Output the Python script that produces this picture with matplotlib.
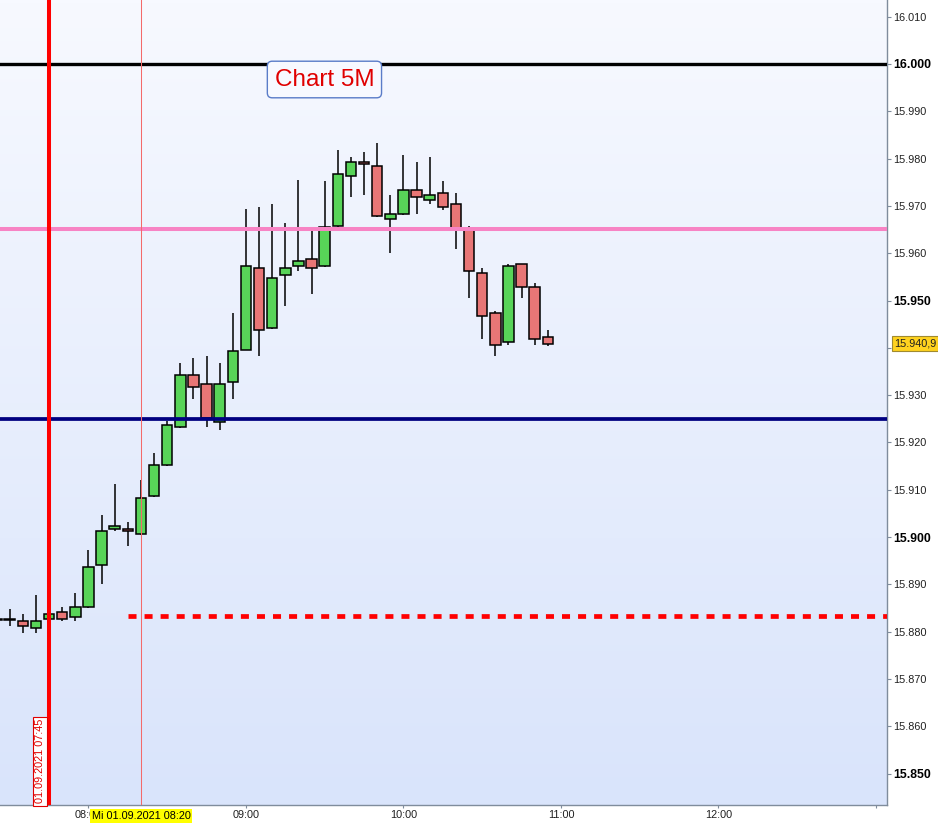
import matplotlib
matplotlib.use("Agg")
import matplotlib.pyplot as plt
import matplotlib.transforms as mtransforms
from matplotlib.colors import LinearSegmentedColormap
import numpy as np

# 5-minute candles
times = ["07:25", "07:30", "07:35", "07:40", "07:45", "07:50", "07:55",
         "08:00", "08:05", "08:10", "08:15", "08:20", "08:25", "08:30",
         "08:35", "08:40", "08:45", "08:50", "08:55", "09:00", "09:05",
         "09:10", "09:15", "09:20", "09:25", "09:30", "09:35", "09:40",
         "09:45", "09:50", "09:55", "10:00", "10:05", "10:10", "10:15",
         "10:20", "10:25", "10:30", "10:35", "10:40", "10:45", "10:50",
         "10:55"]
opens = [15882.7, 15882.7, 15882.2, 15880.8, 15882.7, 15884.2, 15883.1,
         15885.2, 15894.2, 15901.7, 15901.8, 15900.6, 15908.7, 15915.2,
         15923.2, 15934.2, 15932.3, 15924.3, 15932.8, 15939.6, 15956.8,
         15944.2, 15955.4, 15957.3, 15958.7, 15957.3, 15965.7, 15976.3,
         15979.3, 15978.4, 15967.2, 15968.2, 15973.3, 15971.2, 15972.7,
         15970.4, 15965.4, 15955.8, 15947.3, 15941.2, 15957.7, 15952.8,
         15942.3]
highs = [15883.0, 15884.9, 15883.8, 15887.8, 15884.5, 15885.2, 15888.2,
         15897.3, 15904.7, 15911.3, 15903.2, 15912.0, 15917.8, 15924.5,
         15936.8, 15937.9, 15938.2, 15936.8, 15947.4, 15969.4, 15969.8,
         15970.4, 15966.4, 15975.5, 15965.0, 15975.3, 15981.8, 15980.4,
         15981.4, 15983.3, 15972.3, 15980.7, 15979.3, 15980.4, 15975.3,
         15972.7, 15965.8, 15956.9, 15947.8, 15957.7, 15957.8, 15953.7,
         15943.8]
lows = [15882.3, 15881.2, 15879.8, 15879.8, 15881.0, 15882.2, 15882.2,
        15885.0, 15890.2, 15901.2, 15898.2, 15900.4, 15908.5, 15915.0,
        15923.0, 15929.1, 15923.2, 15922.7, 15929.1, 15939.5, 15938.2,
        15944.0, 15948.8, 15956.2, 15951.3, 15957.0, 15965.5, 15971.8,
        15972.2, 15967.7, 15960.1, 15968.0, 15968.2, 15970.3, 15969.2,
        15960.8, 15950.6, 15941.8, 15938.2, 15940.7, 15950.6, 15940.7,
        15940.3]
closes = [15882.5, 15882.5, 15881.2, 15882.2, 15883.8, 15882.7, 15885.2,
          15893.7, 15901.3, 15902.3, 15901.3, 15908.2, 15915.2, 15923.7,
          15934.2, 15931.7, 15925.2, 15932.3, 15939.3, 15957.3, 15943.7,
          15954.7, 15956.8, 15958.3, 15956.8, 15965.5, 15976.7, 15979.2,
          15978.8, 15967.8, 15968.2, 15973.3, 15971.8, 15972.3, 15969.7,
          15964.9, 15956.2, 15946.7, 15940.7, 15957.3, 15952.8, 15941.9,
          15940.9]

hour_ticks = ["08:00", "09:00", "10:00", "11:00", "12:00", "13:00"]
hour_labels = ["08:00", "09:00", "10:00", "11:00", "12:00", ""]
price_ticks = list(range(15850, 16011, 10))

level_black = 16000.0
level_pink = 15965.2
level_navy = 15925.0
level_dashed = 15883.4
dashed_from = "08:15"
red_marker = "07:45"
cursor_time = "08:20"
last_price = 15940.9


def to_min(s):
    h, m = s.split(":")
    return int(h) * 60 + int(m)


x = np.array([to_min(t) for t in times])
o = np.array(opens)
h = np.array(highs)
l = np.array(lows)
c = np.array(closes)

plt.rcParams["font.family"] = ["Liberation Sans", "DejaVu Sans"]

fig = plt.figure(figsize=(9.38, 8.23), dpi=100)
fig.patch.set_facecolor("white")
ax = fig.add_axes([0, 18 / 823, 886.7 / 938, 805 / 823])

x_lo, x_hi = 446.3, 784.1
y_lo, y_hi = 15843.4, 16013.5

# background gradient: light blue at the bottom, almost white at the top
grad = np.linspace(0, 1, 256).reshape(-1, 1)
cmap = LinearSegmentedColormap.from_list("bg", ["#D9E4FB", "#F7F9FF"])
ax.imshow(grad, extent=[x_lo, x_hi, y_lo, y_hi], aspect="auto",
          cmap=cmap, zorder=0, origin="lower")

# candles
up = c >= o
body_lo = np.minimum(o, c)
body_h = np.maximum(np.abs(c - o), 0.12)
ax.vlines(x, l, h, color="black", lw=1.1, zorder=2)
ax.bar(x[up], body_h[up], bottom=body_lo[up], width=4.0,
       color="#58D458", edgecolor="black", linewidth=1.1, zorder=3)
ax.bar(x[~up], body_h[~up], bottom=body_lo[~up], width=4.0,
       color="#E87676", edgecolor="black", linewidth=1.1, zorder=3)

# levels
ax.axhline(level_black, color="black", lw=2.4, zorder=4)
ax.axhline(level_pink, color="#F783C4", lw=2.9, zorder=4)
ax.axhline(level_navy, color="#000080", lw=2.7, zorder=4)
ax.plot([to_min(dashed_from), x_hi + 10], [level_dashed, level_dashed],
        color="#FF0000", lw=3.4, dashes=(1.7, 1.7), zorder=4)
ax.axvline(to_min(red_marker), color="#FF0000", lw=2.9, zorder=5)
ax.axvline(to_min(cursor_time), color="#F46A6A", lw=0.75, zorder=4)

ax.set_xlim(x_lo, x_hi)
ax.set_ylim(y_lo, y_hi)

# axes styling
for side in ["left", "top"]:
    ax.spines[side].set_visible(False)
for side in ["right", "bottom"]:
    ax.spines[side].set_color("#7F8C9C")
    ax.spines[side].set_linewidth(1.0)

ax.yaxis.tick_right()
ax.set_yticks(price_ticks)
ylabels = []
for v in price_ticks:
    if v == 15940:
        ylabels.append("")
    else:
        ylabels.append("%d.%03d" % (v // 1000, v % 1000))
ax.set_yticklabels(ylabels)
for v, lab in zip(price_ticks, ax.get_yticklabels()):
    if v % 50 == 0:
        lab.set_fontweight("bold")
        lab.set_fontsize(8.8)
    else:
        lab.set_fontsize(7.8)
        lab.set_color("#202020")
ax.tick_params(axis="y", direction="out", length=3, width=0.8,
               color="#7F8C9C", pad=2)

ax.set_xticks([to_min(t) for t in hour_ticks])
ax.set_xticklabels(hour_labels, fontsize=7.8, color="#202020")
ax.tick_params(axis="x", direction="out", length=2.2, width=0.8,
               color="#7F8C9C", pad=1.5)

# title box
ax.text(569.9, 15996.7, "Chart 5M", color="#E00000", fontsize=17.5,
        ha="center", va="center", zorder=6,
        bbox=dict(boxstyle="round,pad=0.3,rounding_size=0.2",
                  facecolor="#F7F9FF", edgecolor="#5A7CC8", linewidth=1.0))

# vertical date label at red marker
blend = mtransforms.blended_transform_factory(ax.transData, ax.transAxes)
ax.annotate("01.09.2021 07:45", xy=(to_min(red_marker), 0), xycoords=blend,
            xytext=(-3, 1.2), textcoords="offset points", rotation=90,
            ha="right", va="bottom", fontsize=7.8, color="#E00000", zorder=6,
            bbox=dict(boxstyle="square,pad=0.2", facecolor="white",
                      edgecolor="#E00000", linewidth=0.8))

# cursor label on the time axis (covers part of the 08:00 label, as in the source)
ax.text(to_min(cursor_time), -0.0137, "Mi 01.09.2021 08:20", transform=blend,
        ha="center", va="center", fontsize=7.8, color="black", zorder=10,
        clip_on=False,
        bbox=dict(boxstyle="square,pad=0.15", facecolor="#FFFF00",
                  edgecolor="none"))

# last price label
blend_y = mtransforms.blended_transform_factory(ax.transAxes, ax.transData)
ax.annotate("15.940,9", xy=(1, last_price), xycoords=blend_y,
            xytext=(5.2, 0), textcoords="offset points", ha="left",
            va="center", fontsize=7.8, color="#202020", zorder=10,
            annotation_clip=False,
            bbox=dict(boxstyle="square,pad=0.2", facecolor="#FFD21F",
                      edgecolor="#A08A30", linewidth=0.8))

fig.savefig("out.png", dpi=100, facecolor="white")
